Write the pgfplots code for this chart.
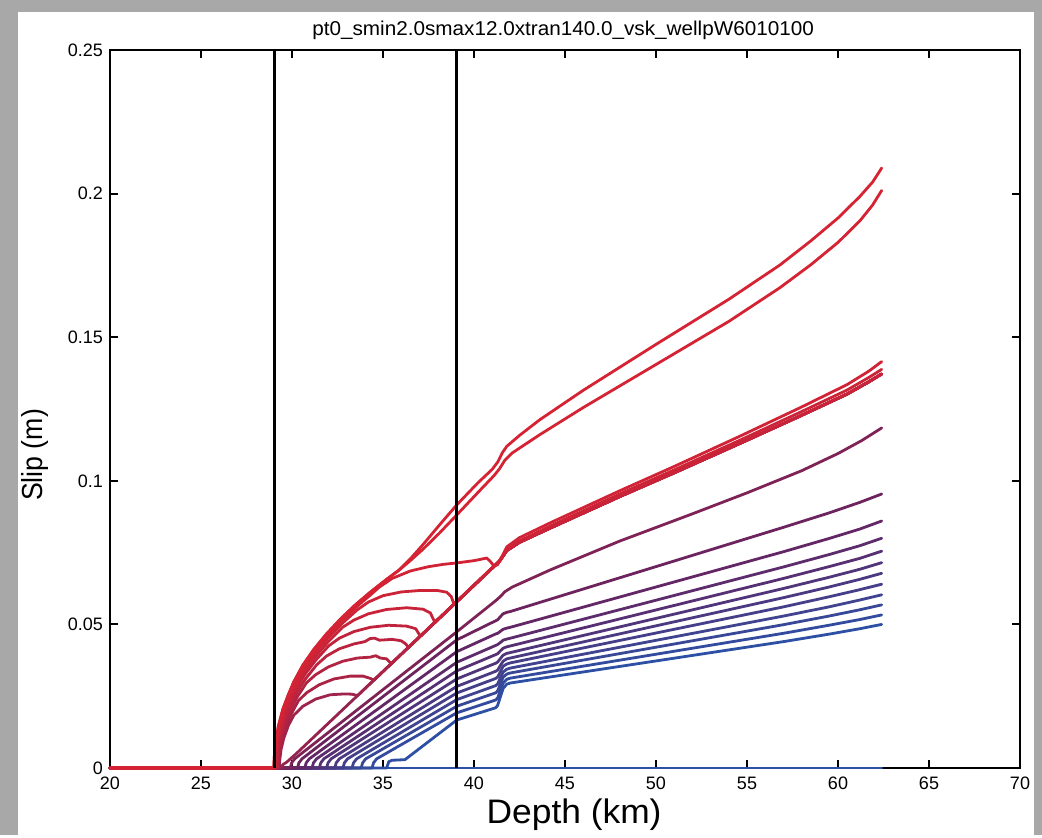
\documentclass[border=0pt]{standalone}
\usepackage{fontspec}
\setmainfont{Liberation Sans}
\usepackage{pgfplots}
\pgfplotsset{compat=1.18}
\definecolor{cred}{RGB}{214,35,52}
\definecolor{cpurp}{RGB}{105,35,95}
\definecolor{cblue}{RGB}{45,80,165}
\definecolor{bggrey}{RGB}{168,168,168}
\pgfplotsset{curve/.style={line width=1.4pt, line join=round, line cap=round, mark=none}}
\begin{document}
\begin{tikzpicture}
\fill[bggrey] (0,0) rectangle (521pt,417.5pt);
\fill[white] (9pt,0) rectangle (517pt,411.5pt);
\begin{axis}[
  at={(55pt,33.5pt)}, anchor=south west,
  scale only axis, width=455pt, height=359pt,
  xmin=20, xmax=70, ymin=0, ymax=0.25,
  xtick={20,25,30,35,40,45,50,55,60,65,70},
  xticklabels={20,25,30,35,40,45,50,55,60,65,70},
  ytick={0,0.05,0.1,0.15,0.2,0.25},
  yticklabels={0,0.05,0.1,0.15,0.2,0.25},
  tick align=inside, major tick length=4pt,
  xtick pos=both, ytick pos=both,
  xticklabel pos=lower, yticklabel pos=left,
  axis line style={line width=1.3pt},
  every tick/.style={black, line width=1pt},
  ticklabel style={font=\fontsize{9}{10}\selectfont},
  xticklabel style={yshift=-1pt},
  clip=false,
]
% zero line
\addplot[curve, color=cblue] coordinates {(20,0) (62.4,0)};
% b1
\addplot[curve, color=cblue] coordinates {(20,0) (35.2,0) (35.32,0.0022) (35.5,0.0027) (36.2,0.0029) (36.35,0.0036) (39.05,0.0167) (41.2,0.0210) (41.3,0.0218) (41.45,0.0248) (41.6,0.0277) (41.8,0.0292) (42.0,0.0296) (57,0.0440) (59.5,0.0466) (61.2,0.0485) (62.4,0.0500)};
% b2
\addplot[curve, color=cpurp!10!cblue] coordinates {(20,0) (34.4,0) (34.48,0.0018) (34.65,0.0032) (39.05,0.0192) (41.2,0.0237) (41.3,0.0244) (41.45,0.0270) (41.6,0.0296) (41.8,0.0309) (42.0,0.0313) (57,0.0469) (59.5,0.0497) (61.2,0.0517) (62.4,0.0533)};
% b3
\addplot[curve, color=cpurp!20!cblue] coordinates {(20,0) (33.8,0) (33.88,0.0018) (34.05,0.0032) (39.05,0.0215) (41.2,0.0262) (41.3,0.0269) (41.45,0.0292) (41.6,0.0316) (41.8,0.0327) (42,0.0331) (57,0.0499) (59.5,0.0529) (61.2,0.0551) (62.4,0.0568)};
% b4
\addplot[curve, color=cpurp!30!cblue] coordinates {(20,0) (33.3,0) (33.38,0.0018) (33.55,0.0032) (39.05,0.0238) (41.2,0.0287) (41.3,0.0293) (41.45,0.0314) (41.6,0.0334) (41.8,0.0344) (42,0.0348) (57,0.0529) (59.5,0.0561) (61.2,0.0585) (62.4,0.0603)};
% b5
\addplot[curve, color=cpurp!40!cblue] coordinates {(20,0) (32.8,0) (32.88,0.0018) (33.05,0.0032) (39.05,0.0261) (41.2,0.0312) (41.3,0.0317) (41.45,0.0335) (41.6,0.0354) (41.8,0.0362) (42,0.0366) (57,0.0561) (59.5,0.0596) (61.2,0.0621) (62.4,0.0640)};
% b6
\addplot[curve, color=cpurp!50!cblue] coordinates {(20,0) (32.35,0) (32.43,0.0018) (32.6,0.0032) (39.05,0.0284) (41.2,0.0337) (41.3,0.0341) (41.45,0.0357) (41.6,0.0372) (41.8,0.0380) (42,0.0383) (57,0.0593) (59.5,0.0630) (61.2,0.0657) (62.4,0.0678)};
% b7
\addplot[curve, color=cpurp!60!cblue] coordinates {(20,0) (31.9,0) (31.98,0.0018) (32.15,0.0032) (39.05,0.0310) (41.2,0.0365) (41.3,0.0369) (41.45,0.0381) (41.6,0.0393) (41.8,0.0399) (42,0.0402) (57,0.0625) (59.5,0.0664) (61.2,0.0692) (62.4,0.0715)};
% b8
\addplot[curve, color=cpurp!70!cblue] coordinates {(20,0) (31.5,0) (31.58,0.0018) (31.75,0.0032) (39.05,0.0338) (41.2,0.0395) (41.3,0.0398) (41.45,0.0408) (41.6,0.0417) (41.8,0.0422) (42,0.0425) (57,0.0660) (59.5,0.0701) (61.2,0.0730) (62.4,0.0755)};
% b9
\addplot[curve, color=cpurp!80!cblue] coordinates {(20,0) (31.1,0) (31.18,0.0018) (31.35,0.0032) (39.05,0.0368) (41.2,0.0427) (41.3,0.0430) (41.45,0.0437) (41.6,0.0445) (41.8,0.0449) (42,0.0452) (57,0.0700) (59.5,0.0743) (61.2,0.0774) (62.4,0.0800)};
% b10
\addplot[curve, color=cpurp!90!cblue] coordinates {(20,0) (30.7,0) (30.78,0.0018) (30.95,0.0032) (39.05,0.0405) (41.2,0.0467) (41.3,0.0469) (41.45,0.0476) (41.6,0.0483) (41.8,0.0487) (42,0.0490) (57,0.0753) (59.5,0.0799) (61.2,0.0832) (62.4,0.0860)};
% p1
\addplot[curve, color=cred!4!cpurp] coordinates {(20,0) (30.3,0) (30.38,0.0018) (30.55,0.0032) (39.05,0.0446) (41.2,0.0513) (41.3,0.0516) (41.45,0.0527) (41.6,0.0537) (41.8,0.0542) (42,0.0545) (57,0.0838) (59.5,0.0888) (61.2,0.0925) (62.4,0.0954)};
% p2
\addplot[curve, color=cred!20!cpurp] coordinates {(20,0) (29.9,0) (29.98,0.0018) (30.15,0.0032) (39.05,0.0474) (41.2,0.0583) (41.45,0.0597) (41.7,0.0614) (42.1,0.0630) (44.2,0.0690) (48,0.0790) (52,0.0885) (55,0.0958) (58,0.1035) (60,0.1095) (61.3,0.1140) (62.4,0.1184)};
% C11 (diagonal)
\addplot[curve, color=cred!40!cpurp] coordinates {(20,0) (29.4,0) (29.5,0.0012) (29.7,0.0020) (30.2,0.0048) (39.05,0.0579) (41.4,0.0720) (41.8,0.0757) (42.5,0.0786) (44.2,0.0836) (48,0.0945) (51,0.1028) (54.6,0.1130) (58,0.1228) (60.5,0.1302) (61.7,0.1345) (62.4,0.1372)};
% C10
\addplot[curve, color=cred!50!cpurp] coordinates {(20,0) (29.3,0) (29.33,0.0029) (29.4,0.0065) (29.55,0.0104) (29.8,0.0148) (30.1,0.0184) (30.6,0.0215) (31.3,0.0240) (32.1,0.0255) (32.9,0.0258) (33.3,0.0257) (33.6,0.0252) (39.05,0.0579) (41.4,0.0720) (41.8,0.0757) (42.5,0.0786) (44.2,0.0836) (48,0.0945) (51,0.1028) (54.6,0.1130) (58,0.1228) (60.5,0.1302) (61.7,0.1345) (62.4,0.1372)};
% C9
\addplot[curve, color=cred!60!cpurp] coordinates {(20,0) (29.25,0) (29.28,0.0031) (29.35,0.0070) (29.5,0.0113) (29.75,0.0160) (30.05,0.0199) (30.35,0.0234) (30.8,0.0262) (31.5,0.0290) (32.3,0.0310) (33.2,0.0320) (33.9,0.0320) (34.3,0.0312) (34.5,0.0306) (39.05,0.0579) (41.4,0.0720) (41.8,0.0757) (42.5,0.0786) (44.2,0.0836) (48,0.0945) (51,0.1028) (54.6,0.1130) (58,0.1228) (60.5,0.1302) (61.7,0.1345) (62.4,0.1372)};
% C8
\addplot[curve, color=cred!68!cpurp] coordinates {(20,0) (29.2,0) (29.23,0.0033) (29.3,0.0075) (29.45,0.0120) (29.7,0.0170) (30.0,0.0212) (30.3,0.0249) (30.8,0.0297) (31.3,0.0325) (32.0,0.0352) (32.8,0.0372) (33.6,0.0383) (34.3,0.0386) (34.6,0.0391) (34.85,0.0383) (35.2,0.0380) (35.45,0.0363) (39.05,0.0579) (41.4,0.0720) (41.8,0.0757) (42.5,0.0786) (44.2,0.0836) (48,0.0945) (51,0.1028) (54.6,0.1130) (58,0.1228) (60.5,0.1302) (61.7,0.1345) (62.4,0.1372)};
% C7
\addplot[curve, color=cred!76!cpurp] coordinates {(20,0) (29.15,0) (29.18,0.0035) (29.25,0.0078) (29.4,0.0126) (29.65,0.0178) (29.95,0.0222) (30.25,0.0261) (30.75,0.0311) (31.35,0.0359) (31.9,0.0390) (32.6,0.0415) (33.4,0.0432) (34.0,0.0440) (34.3,0.0451) (34.55,0.0452) (34.8,0.0445) (35.5,0.0448) (36.0,0.0443) (36.25,0.0432) (36.4,0.0420) (39.05,0.0579) (41.4,0.0720) (41.8,0.0757) (42.5,0.0786) (44.2,0.0836) (48,0.0945) (51,0.1028) (54.6,0.1130) (58,0.1228) (60.5,0.1302) (61.7,0.1345) (62.4,0.1372)};
% C6
\addplot[curve, color=cred!82!cpurp] coordinates {(20,0) (29.11,0) (29.14,0.0036) (29.21,0.0082) (29.36,0.0132) (29.61,0.0187) (29.91,0.0232) (30.21,0.0273) (30.71,0.0326) (31.31,0.0376) (32.01,0.0425) (32.6,0.0452) (33.4,0.0475) (34.3,0.0490) (35.3,0.0497) (36.3,0.0494) (36.8,0.0485) (37.05,0.0459) (39.05,0.0579) (41.4,0.0720) (41.8,0.0757) (42.5,0.0786) (44.2,0.0836) (48,0.0945) (51,0.1028) (54.6,0.1130) (58,0.1228) (60.5,0.1302) (61.7,0.1345) (62.4,0.1372)};
% C5
\addplot[curve, color=cred!88!cpurp] coordinates {(20,0) (29.08,0) (29.11,0.0038) (29.18,0.0085) (29.33,0.0136) (29.58,0.0193) (29.88,0.0240) (30.18,0.0282) (30.68,0.0337) (31.28,0.0388) (31.98,0.0439) (32.78,0.0490) (33.4,0.0515) (34.2,0.0537) (35.2,0.0552) (36.3,0.0558) (37.2,0.0553) (37.6,0.0540) (37.85,0.0507) (39.05,0.0579) (41.4,0.0720) (41.8,0.0757) (42.5,0.0786) (44.2,0.0836) (48,0.0945) (51,0.1028) (54.6,0.1130) (58,0.1228) (60.5,0.1302) (61.7,0.1345) (62.4,0.1372)};
% C4
\addplot[curve, color=cred!92!cpurp] coordinates {(20,0) (29.05,0) (29.08,0.0039) (29.15,0.0087) (29.3,0.0140) (29.55,0.0198) (29.85,0.0246) (30.15,0.0290) (30.65,0.0345) (31.25,0.0399) (31.95,0.0451) (32.75,0.0503) (33.55,0.0549) (34.2,0.0578) (35.0,0.0600) (36.0,0.0613) (37.0,0.0618) (38.0,0.0618) (38.5,0.0612) (38.75,0.0597) (38.9,0.0570) (39.05,0.0579) (41.4,0.0722) (41.8,0.0760) (42.5,0.0791) (44.2,0.0843) (48,0.0954) (51,0.1038) (54.6,0.1141) (58,0.1241) (60.5,0.1316) (61.7,0.1360) (62.4,0.1388)};
% C3
\addplot[curve, color=cred!96!cpurp] coordinates {(20,0) (29.02,0) (29.05,0.0039) (29.12,0.0089) (29.27,0.0143) (29.52,0.0202) (29.82,0.0251) (30.12,0.0296) (30.62,0.0353) (31.22,0.0407) (31.92,0.0460) (32.72,0.0513) (33.52,0.0560) (34.32,0.0603) (34.8,0.0630) (35.5,0.0660) (36.5,0.0686) (37.5,0.0701) (38.3,0.0709) (39.05,0.0714) (40.0,0.0722) (40.7,0.0731) (40.9,0.0719) (41.1,0.0703) (41.3,0.0708) (41.55,0.0738) (41.8,0.0770) (42.5,0.0802) (44.2,0.0854) (48,0.0965) (51,0.1050) (54.6,0.1155) (58,0.1257) (60.5,0.1335) (61.7,0.1382) (62.4,0.1415)};
% C2
\addplot[curve, color=cred] coordinates {(20,0) (29.0,0) (29.03,0.004) (29.1,0.009) (29.25,0.0145) (29.5,0.0205) (29.8,0.0255) (30.1,0.0300) (30.6,0.0358) (31.2,0.0413) (31.9,0.0467) (32.7,0.0521) (33.5,0.0569) (34.3,0.0612) (35.1,0.0652) (35.9,0.0690) (36.5,0.0722) (37.2,0.0762) (38.1,0.0818) (39.05,0.0881) (40.3,0.0965) (41.1,0.1018) (41.4,0.1042) (41.7,0.1072) (42.1,0.1097) (43.6,0.1160) (46,0.1255) (50,0.1405) (54,0.1555) (56.8,0.1672) (58.5,0.1752) (60.0,0.1830) (61.2,0.1905) (61.9,0.1960) (62.4,0.2011)};
% C1
\addplot[curve, color=cred] coordinates {(20,0) (29.0,0) (29.03,0.004) (29.1,0.009) (29.25,0.0145) (29.5,0.0205) (29.8,0.0255) (30.1,0.0300) (30.6,0.0358) (31.2,0.0413) (31.9,0.0467) (32.7,0.0521) (33.5,0.0569) (34.3,0.0612) (35.1,0.0652) (35.9,0.0690) (36.5,0.0728) (37.2,0.0778) (38.1,0.0846) (39.05,0.0916) (40.2,0.0992) (41.0,0.1040) (41.3,0.1065) (41.55,0.1097) (41.8,0.1120) (42.5,0.1158) (43.6,0.1212) (46.0,0.1315) (50.0,0.1475) (54.0,0.1632) (56.8,0.1751) (58.5,0.1835) (60.0,0.1915) (61.2,0.1990) (61.9,0.2040) (62.4,0.2089)};
% vertical lines
\addplot[black, line width=1.4pt] coordinates {(29.05,0) (29.05,0.25)};
\addplot[black, line width=1.4pt] coordinates {(39.05,0) (39.05,0.25)};
\node[font=\fontsize{10}{12}\selectfont, xscale=1.035] at (rel axis cs:0.498,1) [yshift=10pt] {pt0\_smin2.0smax12.0xtran140.0\_vsk\_wellpW6010100};
\node[font=\fontsize{14.5}{17}\selectfont, rotate=90, xscale=0.92] at (rel axis cs:-0.0824,0.436) {Slip (m)};
\node[font=\fontsize{17}{20}\selectfont, xscale=1.04] at (rel axis cs:0.51,-0.0655) {Depth (km)};
\end{axis}
\end{tikzpicture}
\end{document}
